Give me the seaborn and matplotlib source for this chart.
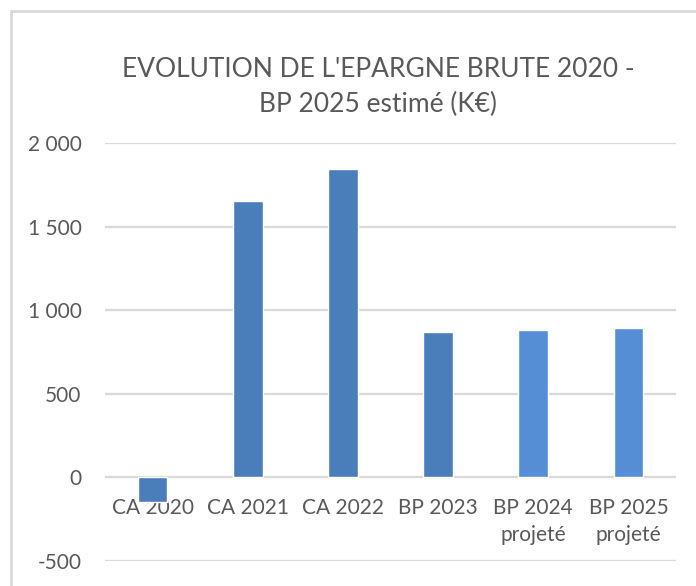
import matplotlib
matplotlib.use('Agg')
import matplotlib.pyplot as plt
import matplotlib.lines as mlines
import pandas as pd
import seaborn as sns

# Values (K€)
categories = ['CA 2020', 'CA 2021', 'CA 2022', 'BP 2023',
              'BP 2024\nprojeté', 'BP 2025\nprojeté']
epargne = [-145, 1655, 1846, 870, 880, 892]
bar_colors = ['#4a7ebb', '#4a7ebb', '#4a7ebb', '#4a7ebb', '#558ed5', '#558ed5']
y_ticks = [-500, 0, 500, 1000, 1500, 2000]
y_labels = ['-500', '0', '500', '1 000', '1 500', '2 000']

df = pd.DataFrame({'annee': categories, 'epargne': epargne})

sns.set_style('white')
plt.rcParams['font.family'] = ['Lato', 'DejaVu Sans']
text_col = '#595959'
grid_col = '#d9d9d9'

fig = plt.figure(figsize=(6.96, 5.86), dpi=100)
ax = fig.add_axes([105 / 696, 25 / 586, 571 / 696, 418 / 586])

sns.barplot(data=df, x='annee', y='epargne', hue='annee', palette=bar_colors,
            legend=False, width=0.31, saturation=1, ax=ax, zorder=3)

ax.set_ylim(-500, 2000)
ax.set_yticks(y_ticks)
ax.set_yticklabels(y_labels)
ax.set_xlim(-0.5, len(categories) - 0.5)
ax.set_xlabel('')
ax.set_ylabel('')

for y in y_ticks:
    ax.axhline(y, color=grid_col, lw=1.6, zorder=1)

for side in ['top', 'right', 'left']:
    ax.spines[side].set_visible(False)
# put x labels right under the zero line
ax.spines['bottom'].set_position(('data', 0))
ax.spines['bottom'].set_color('none')

ax.tick_params(axis='x', length=0, pad=15, labelsize=15, labelcolor=text_col)
ax.tick_params(axis='y', length=0, pad=17, labelsize=15, labelcolor=text_col)
for lbl in ax.get_xticklabels():
    lbl.set_linespacing(1.45)

fig.text(378 / 696, 1 - 87 / 586, "EVOLUTION DE L'EPARGNE BRUTE 2020 -\nBP 2025 estimé (K€)",
         ha='center', va='center', fontsize=19,
         color=text_col, linespacing=1.45)

# light chart frame (left and top edges only visible)
fig.add_artist(mlines.Line2D([11 / 696, 11 / 696], [0, 1 - 11 / 586],
                             transform=fig.transFigure, color=grid_col, lw=2))
fig.add_artist(mlines.Line2D([11 / 696, 1], [1 - 11 / 586, 1 - 11 / 586],
                             transform=fig.transFigure, color=grid_col, lw=2))

fig.savefig('out.png', dpi=100)
